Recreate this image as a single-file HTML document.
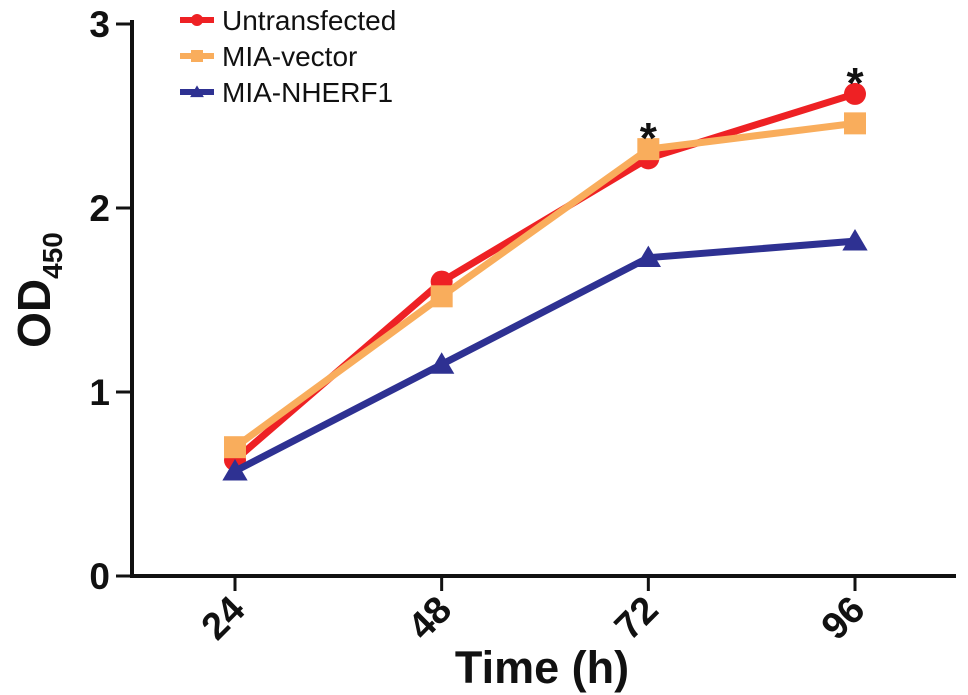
<!DOCTYPE html>
<html><head><meta charset="utf-8"><style>
html,body{margin:0;padding:0;background:#fff;}
svg{display:block;font-family:"Liberation Sans",Arial,sans-serif;}
</style></head><body>
<svg id="chart" width="968" height="695" viewBox="0 0 968 695">
<g id="axes"></g><g id="series"></g><g id="legend"></g>
</svg>
<script>
const categories = ["24","48","72","96"];
const yTicks = [0,1,2,3];
const seriesNames = ["Untransfected","MIA-vector","MIA-NHERF1"];
const untransfected = [0.63,1.60,2.27,2.62];
const miaVector = [0.70,1.52,2.32,2.46];
const miaNherf1 = [0.57,1.15,1.73,1.82];
const starFlags = [0,0,1,1];

const NS="http://www.w3.org/2000/svg";
function mk(tag,attrs,parent,text){const e=document.createElementNS(NS,tag);for(const k in attrs)e.setAttribute(k,attrs[k]);if(text!==undefined)e.textContent=text;parent.appendChild(e);return e;}
const y0=576,yPer=184,x0=132;
const xPos=[235,442,649,855];
function yS(v){return y0-v*yPer;}
function xS(i){return xPos[0]+i*(xPos[3]-xPos[0])/(categories.length-1);}
const axes=document.getElementById('axes');
let e;
e=mk('line',{x1:x0,y1:20,x2:x0,y2:y0+2,stroke:'#111','stroke-width':4},axes);

e=mk('line',{x1:x0-2,y1:y0,x2:956,y2:y0,stroke:'#111','stroke-width':4},axes);

yTicks.forEach(v=>{
 e=mk('line',{x1:116,y1:yS(v),x2:x0,y2:yS(v),stroke:'#111','stroke-width':3},axes);
 
 e=mk('text',{x:110,y:yS(v)+13,'text-anchor':'end','font-size':37,'font-weight':'bold',fill:'#111'},axes,String(v));
 
});
categories.forEach((c,i)=>{
 const x=xS(i);
 e=mk('line',{x1:x,y1:y0,x2:x,y2:591,stroke:'#111','stroke-width':3},axes);
 
 e=mk('text',{x:x+12,y:612,'text-anchor':'end','font-size':38,'font-weight':'bold',fill:'#111',transform:`rotate(-45 ${x+12} 612)`},axes,c);
 
});
e=mk('text',{x:542,y:683,'text-anchor':'middle','font-size':45,'font-weight':'bold',fill:'#111'},axes,'Time (h)');

e=mk('text',{x:50,y:290,'text-anchor':'middle','font-size':46,'font-weight':'bold',fill:'#111',transform:'rotate(-90 50 290)'},axes);

mk('tspan',{},e,'OD');mk('tspan',{'font-size':28,dy:12},e,'450');

const ser=document.getElementById('series');
const defs=[{d:untransfected,c:'#ee2124',m:'circle'},{d:miaVector,c:'#f9ad5c',m:'square'},{d:miaNherf1,c:'#2e3192',m:'tri'}];
function marker(g,m,x,y,c,s){
 if(m==='circle')return mk('circle',{cx:x,cy:y,r:s,fill:c},g);
 if(m==='square')return mk('rect',{x:x-s,y:y-s,width:2*s,height:2*s,fill:c},g);
 return mk('polygon',{points:`${x},${y-s*1.1} ${x-s*1.15},${y+s*0.85} ${x+s*1.15},${y+s*0.85}`,fill:c},g);
}
defs.forEach((s,k)=>{
 const g=mk('g',{},ser);
 
 
 const p=mk('polyline',{points:s.d.map((v,i)=>xS(i)+','+yS(v)).join(' '),fill:'none',stroke:s.c,'stroke-width':7,'stroke-linejoin':'round'},g);
 
 s.d.forEach((v,i)=>{const m=marker(g,s.m,xS(i),yS(v),s.c,11);
  });
});
starFlags.forEach((f,i)=>{if(!f)return;
 const top=Math.max(untransfected[i],miaVector[i],miaNherf1[i]);
 e=mk('text',{x:xS(i),y:yS(top)+4,'text-anchor':'middle','font-size':44,'font-weight':'bold',fill:'#111'},ser,'*');
 
});
const leg=document.getElementById('legend');
defs.forEach((s,k)=>{
 const y=20+k*36;
 const g=mk('g',{},leg);
 
 mk('line',{x1:180,y1:y,x2:214,y2:y,stroke:s.c,'stroke-width':6},g);
 marker(g,s.m,197,y,s.c,6);
 mk('text',{x:222,y:y+10,'font-size':28,fill:'#111'},g,seriesNames[k]);
});
</script>
</body></html>
